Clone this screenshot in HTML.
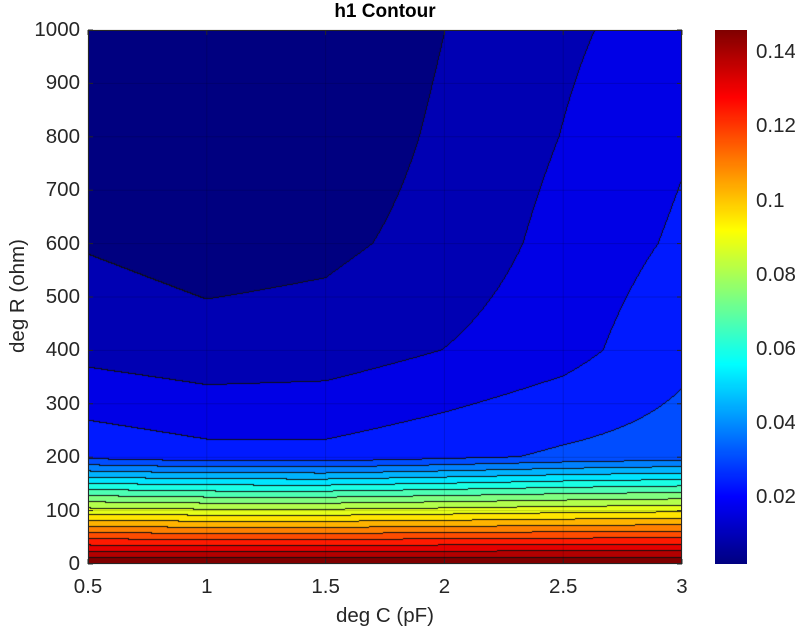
<!DOCTYPE html>
<html><head><meta charset="utf-8">
<style>
body{margin:0;background:#fff;width:795px;height:632px;overflow:hidden;position:relative;font-family:"Liberation Sans",Arial,sans-serif;color:#262626}
.t{position:absolute;white-space:nowrap;font-size:20.5px;line-height:20px}
</style></head><body>
<div class="t" style="left:285px;top:2px;width:200px;text-align:center;font-weight:bold;font-size:19px;color:#000">h1 Contour</div>
<canvas id="plot" width="594" height="534" style="position:absolute;left:88px;top:30px"></canvas>
<svg id="ov" width="795" height="632" style="position:absolute;left:0;top:0"></svg>
<canvas id="cbar" width="32" height="534" style="position:absolute;left:715px;top:30px"></canvas>
<div class="t" style="left:285px;top:606px;width:200px;text-align:center;font-size:20.5px">deg C (pF)</div>
<div class="t" style="left:-82px;top:286px;width:200px;text-align:center;font-size:20.5px;transform:rotate(-90deg)">deg R (ohm)</div>
<div id="labels"></div>
<script>
const cVals=[0.5,1,1.5,2,2.5,3];
const rVals=[0,200,400,600,800,1000];
// zGrid rows correspond to rVals, columns to cVals
const zRow0=[0.146,0.146,0.146,0.146,0.146,0.146];
const zRow200=[0.0273,0.0248,0.0246,0.0274,0.0306,0.0327];
const zRow400=[0.0135,0.01134,0.01209,0.0158,0.0200,0.0276];
const zRow600=[0.00834,0.00612,0.00731,0.01119,0.0180,0.0237];
const zRow800=[0.005,0.004,0.0045,0.0100,0.0159,0.0218];
const zRow1000=[0.003,0.002,0.003,0.0088,0.0145,0.019];
const zGrid=[zRow0,zRow200,zRow400,zRow600,zRow800,zRow1000];
const xTicks=[0.5,1,1.5,2,2.5,3];
const xTickLabels=["0.5","1","1.5","2","2.5","3"];
const yTicks=[0,100,200,300,400,500,600,700,800,900,1000];
const cbTicks=[0.02,0.04,0.06,0.08,0.1,0.12,0.14];
const cbTickLabels=["0.02","0.04","0.06","0.08","0.1","0.12","0.14"];
const zMin=0.002, zMax=0.146, nLevels=20;

const PX=88,PY=30,PW=594,PH=534;
const xS=v=>PX+(v-0.5)/2.5*PW;
const yS=v=>PY+PH-(v/1000)*PH;
const cbY=v=>PY+PH-(v-zMin)/(zMax-zMin)*PH;
function jet(t){const c=x=>Math.max(0,Math.min(1,x));return [c(1.5-Math.abs(4*t-3)),c(1.5-Math.abs(4*t-2)),c(1.5-Math.abs(4*t-1))].map(v=>Math.round(v*255));}
const d=(zMax-zMin)/(nLevels+1);
function zAt(C,R){
  let i=Math.min(cVals.length-2,Math.max(0,Math.floor((C-0.5)/0.5)));
  let j=Math.min(rVals.length-2,Math.max(0,Math.floor(R/200)));
  const u=(C-cVals[i])/(cVals[i+1]-cVals[i]),v=(R-rVals[j])/(rVals[j+1]-rVals[j]);
  return zGrid[j][i]*(1-u)*(1-v)+zGrid[j][i+1]*u*(1-v)+zGrid[j+1][i]*(1-u)*v+zGrid[j+1][i+1]*u*v;
}
const band=z=>Math.max(0,Math.min(nLevels,Math.floor((z-zMin)/d)));
const cv=document.getElementById('plot'),ctx=cv.getContext('2d');
const img=ctx.createImageData(PW,PH);
const B=new Int16Array(PW*PH);
for(let y=0;y<PH;y++)for(let x=0;x<PW;x++){
  const C=0.5+(x+0.5)/PW*2.5,R=(PH-y-0.5)/PH*1000;
  B[y*PW+x]=band(zAt(C,R));
}
for(let y=0;y<PH;y++)for(let x=0;x<PW;x++){
  const b=B[y*PW+x];let col=jet(b/nLevels);
  const edge=(x<PW-1&&B[y*PW+x+1]!==b)||(y<PH-1&&B[(y+1)*PW+x]!==b);
  if(edge)col=[15,15,15];
  const k=(y*PW+x)*4;img.data[k]=col[0];img.data[k+1]=col[1];img.data[k+2]=col[2];img.data[k+3]=255;
}
ctx.putImageData(img,0,0);
const cb=document.getElementById('cbar').getContext('2d');
for(let y=0;y<PH;y++){const t=1-(y+0.5)/PH;const c=jet(t);cb.fillStyle=`rgb(${c})`;cb.fillRect(0,y,32,1);}
const ns='http://www.w3.org/2000/svg',ov=document.getElementById('ov'),lab=document.getElementById('labels');
function line(x1,y1,x2,y2,st,w,name){const l=document.createElementNS(ns,'line');l.setAttribute('x1',x1);l.setAttribute('y1',y1);l.setAttribute('x2',x2);l.setAttribute('y2',y2);l.setAttribute('stroke',st);l.setAttribute('stroke-width',w);


ov.appendChild(l);}
function label(txt,x,y,align,name){const e=document.createElement('div');e.className='t';e.textContent=txt;e.style.top=(y-10)+'px';
if(align==='c'){e.style.left=(x-40)+'px';e.style.width='80px';e.style.textAlign='center';}
else if(align==='r'){e.style.left=(x-80)+'px';e.style.width='80px';e.style.textAlign='right';}
else e.style.left=x+'px';


lab.appendChild(e);}
xTicks.forEach((v,i)=>{const x=xS(v);line(x,PY,x,PY+PH,'rgba(0,0,0,0.15)',1,'x-gridline');line(x,PY+PH,x,PY+PH-5,'#262626',1,'x-tick');line(x,PY,x,PY+5,'#262626',1,'x-tick-top');label(xTickLabels[i],x,PY+PH+23,'c','x-tick-label');});
yTicks.forEach(v=>{const y=yS(v);line(PX,y,PX+PW,y,'rgba(0,0,0,0.15)',1,'y-gridline');line(PX,y,PX+5,y,'#262626',1,'y-tick');line(PX+PW,y,PX+PW-5,y,'#262626',1,'y-tick-right');label(String(v),PX-8,y,'r','y-tick-label');});
cbTicks.forEach((v,i)=>{const y=cbY(v);line(741,y,747,y,'#262626',1,'colorbar-tick');label(cbTickLabels[i],756,y,'l','colorbar-tick-label');});
const r=document.createElementNS(ns,'rect');r.setAttribute('x',PX+0.5);r.setAttribute('y',PY+0.5);r.setAttribute('width',PW-1);r.setAttribute('height',PH-1);r.setAttribute('fill','none');r.setAttribute('stroke','#262626');


ov.appendChild(r);
const r2=document.createElementNS(ns,'rect');r2.setAttribute('x',715.5);r2.setAttribute('y',PY+0.5);r2.setAttribute('width',31);r2.setAttribute('height',PH-1);r2.setAttribute('fill','none');r2.setAttribute('stroke','#262626');


ov.appendChild(r2);
</script>
</body></html>
